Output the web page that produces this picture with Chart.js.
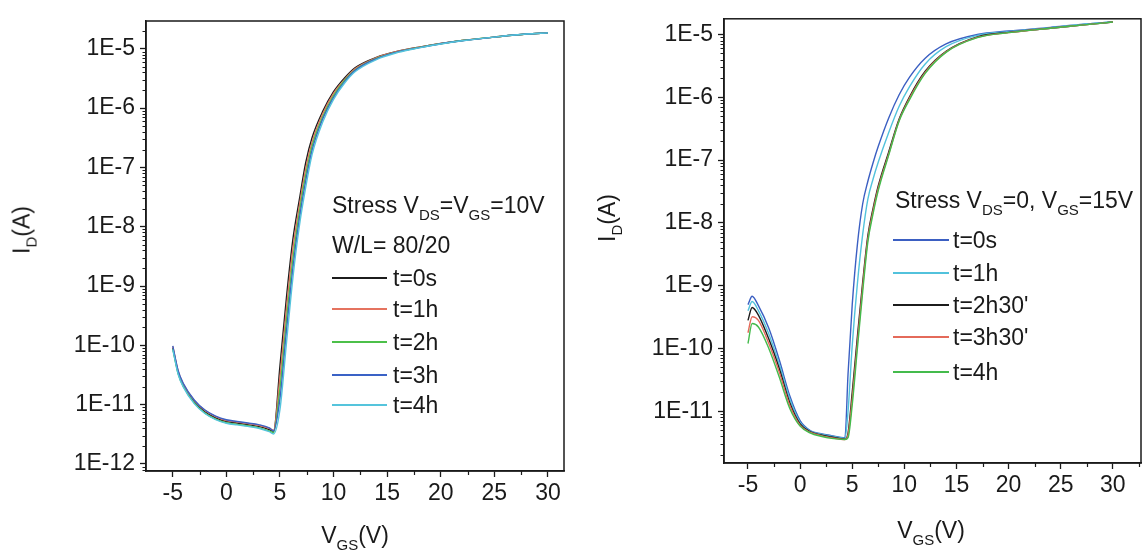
<!DOCTYPE html>
<html>
<head>
<meta charset="utf-8">
<script src="https://cdn.jsdelivr.net/npm/chart.js@4.4.1/dist/chart.umd.min.js"></script>
<style>
  html, body { margin: 0; padding: 0; background: #fff; }
  body { width: 1145px; height: 553px; position: relative; overflow: hidden;
         font-family: "Liberation Sans", Arial, sans-serif; color: #1a1a1a; }
  canvas { position: absolute; top: 0; }
  .txt { position: absolute; font-size: 23px; line-height: 1; white-space: nowrap; }
  .txt sub { font-size: 15px; position: relative; top: 7px; vertical-align: baseline; line-height: 0; }
  .ytitle { transform: translate(-50%, -50%) rotate(-90deg); }
  .xtitle { transform: translate(-50%, -50%); }
  .mid { transform: translateY(-50%); }
  .ln { position: absolute; height: 2px; }
</style>
</head>
<body>
<canvas id="leftChart" width="580" height="553" style="left:0"></canvas>
<canvas id="rightChart" width="565" height="553" style="left:580px"></canvas>
<div id="overlay"></div>
<script>
// ---- left panel: stress Vds = Vgs = 10V ----
const vgsLeft = [-5, -4.5, -4, -3, -2, -1, 0, 1, 2, 3, 4, 4.4, 5, 5.6, 6.2, 6.8, 7.4, 8, 9, 10, 11, 12, 14, 16, 18, 20, 22, 25, 28, 30];
const leftT0 = [9.1e-11, 3.5e-11, 2.1e-11, 1.12e-11, 7.6e-12, 6.0e-12, 5.2e-12, 4.9e-12, 4.6e-12, 4.3e-12, 3.8e-12, 3.55e-12, 4.5e-11, 6.3e-10, 6.0e-9, 2.8e-8, 1.2e-7, 3.2e-7, 8.9e-7, 1.9e-6, 3.2e-6, 4.8e-6, 7.2e-6, 9.1e-6, 1.07e-5, 1.23e-5, 1.38e-5, 1.58e-5, 1.78e-5, 1.86e-5];
const leftT1 = [9.6e-11, 3.7e-11, 2.2e-11, 1.18e-11, 8.0e-12, 6.3e-12, 5.4e-12, 5.1e-12, 4.8e-12, 4.5e-12, 4.0e-12, 3.7e-12, 2.95e-11, 4.1e-10, 4.2e-9, 2.2e-8, 9.5e-8, 2.7e-7, 8.1e-7, 1.78e-6, 3.0e-6, 4.6e-6, 7.1e-6, 9.1e-6, 1.07e-5, 1.23e-5, 1.38e-5, 1.58e-5, 1.78e-5, 1.86e-5];
const leftT2 = [8.7e-11, 3.3e-11, 2.0e-11, 1.07e-11, 7.2e-12, 5.7e-12, 4.95e-12, 4.65e-12, 4.4e-12, 4.1e-12, 3.6e-12, 3.4e-12, 1.9e-11, 2.6e-10, 2.8e-9, 1.7e-8, 7.4e-8, 2.3e-7, 7.2e-7, 1.62e-6, 2.9e-6, 4.4e-6, 6.9e-6, 8.9e-6, 1.06e-5, 1.22e-5, 1.38e-5, 1.58e-5, 1.78e-5, 1.86e-5];
const leftT3 = [9.8e-11, 3.75e-11, 2.25e-11, 1.2e-11, 8.1e-12, 6.4e-12, 5.55e-12, 5.2e-12, 4.9e-12, 4.6e-12, 4.05e-12, 3.6e-12, 1.26e-11, 1.7e-10, 1.95e-9, 1.32e-8, 5.9e-8, 1.95e-7, 6.6e-7, 1.51e-6, 2.75e-6, 4.3e-6, 6.8e-6, 8.9e-6, 1.05e-5, 1.22e-5, 1.37e-5, 1.58e-5, 1.78e-5, 1.86e-5];
const leftT4 = [8.5e-11, 3.25e-11, 1.95e-11, 1.04e-11, 7.1e-12, 5.6e-12, 4.85e-12, 4.55e-12, 4.3e-12, 4.0e-12, 3.5e-12, 3.2e-12, 8.3e-12, 1.07e-10, 1.35e-9, 1.0e-8, 4.6e-8, 1.66e-7, 5.9e-7, 1.41e-6, 2.6e-6, 4.1e-6, 6.6e-6, 8.7e-6, 1.04e-5, 1.21e-5, 1.37e-5, 1.58e-5, 1.78e-5, 1.86e-5];
const leftNames = ["t=0s", "t=1h", "t=2h", "t=3h", "t=4h"];
const leftColors = ["#1c1c1c", "#e5735f", "#4cc04a", "#3a62c6", "#55c4dc"];
const leftYTicks = [1e-12, 1e-11, 1e-10, 1e-9, 1e-8, 1e-7, 1e-6, 1e-5];
const leftYLabels = ["1E-12", "1E-11", "1E-10", "1E-9", "1E-8", "1E-7", "1E-6", "1E-5"];

// ---- right panel: stress Vds = 0, Vgs = 15V ----
const vgsRight = [-5, -4.6, -4, -3, -2, -1, 0, 1, 2, 3, 4.3, 4.6, 5, 5.5, 6, 6.5, 7, 7.5, 8.5, 9.5, 10.5, 12, 14, 17, 20, 24, 27, 30];
const rightT0 = [5.0e-10, 6.8e-10, 4.8e-10, 2.1e-10, 6.6e-11, 1.78e-11, 7.1e-12, 4.9e-12, 4.4e-12, 4.1e-12, 3.8e-12, 4.0e-11, 5.0e-10, 4.6e-9, 2.0e-8, 4.6e-8, 9.1e-8, 1.66e-7, 4.7e-7, 1.1e-6, 2.1e-6, 4.2e-6, 7.1e-6, 1.0e-5, 1.14e-5, 1.3e-5, 1.45e-5, 1.58e-5];
const rightT1 = [4.0e-10, 5.6e-10, 4.0e-10, 1.7e-10, 5.6e-11, 1.58e-11, 6.6e-12, 4.8e-12, 4.3e-12, 4.0e-12, 3.7e-12, 1.0e-11, 1.12e-10, 1.1e-9, 6.5e-9, 2.4e-8, 5.0e-8, 9.3e-8, 2.75e-7, 7.2e-7, 1.48e-6, 3.4e-6, 6.4e-6, 9.7e-6, 1.11e-5, 1.29e-5, 1.45e-5, 1.58e-5];
const rightT2 = [2.8e-10, 4.5e-10, 3.4e-10, 1.41e-10, 4.8e-11, 1.38e-11, 6.3e-12, 4.7e-12, 4.2e-12, 3.9e-12, 3.6e-12, 4.5e-12, 2.0e-11, 1.58e-10, 1.12e-9, 6.3e-9, 1.7e-8, 3.9e-8, 1.35e-7, 4.5e-7, 1.02e-6, 2.6e-6, 5.4e-6, 9.2e-6, 1.08e-5, 1.26e-5, 1.41e-5, 1.58e-5];
const rightT3 = [1.78e-10, 3.2e-10, 2.8e-10, 1.2e-10, 4.2e-11, 1.26e-11, 6.0e-12, 4.6e-12, 4.1e-12, 3.8e-12, 3.55e-12, 4.2e-12, 1.58e-11, 1.26e-10, 9.5e-10, 5.6e-9, 1.55e-8, 3.6e-8, 1.25e-7, 4.3e-7, 9.7e-7, 2.5e-6, 5.3e-6, 9.0e-6, 1.07e-5, 1.26e-5, 1.41e-5, 1.58e-5];
const rightT4 = [1.2e-10, 2.5e-10, 2.2e-10, 1.0e-10, 3.5e-11, 1.12e-11, 5.8e-12, 4.5e-12, 4.0e-12, 3.7e-12, 3.55e-12, 3.8e-12, 1.26e-11, 1.02e-10, 7.9e-10, 5.0e-9, 1.4e-8, 3.3e-8, 1.2e-7, 4.2e-7, 9.2e-7, 2.4e-6, 5.2e-6, 8.9e-6, 1.07e-5, 1.26e-5, 1.41e-5, 1.58e-5];
const rightNames = ["t=0s", "t=1h", "t=2h30'", "t=3h30'", "t=4h"];
const rightColors = ["#3b5fc2", "#52c2dc", "#1c1c1c", "#e46a5a", "#44bb4c"];
const rightYTicks = [1e-11, 1e-10, 1e-9, 1e-8, 1e-7, 1e-6, 1e-5];
const rightYLabels = ["1E-11", "1E-10", "1E-9", "1E-8", "1E-7", "1E-6", "1E-5"];

const xTicks = [-5, 0, 5, 10, 15, 20, 25, 30];
const xMinorLeft = [-2.5, 2.5, 7.5, 12.5, 17.5, 22.5, 27.5];
const xMinorRight = [-2.5, 2.5, 7.5, 12.5, 17.5, 22.5, 27.5, 32.5];

const FONT = '"Liberation Sans", Arial, sans-serif';
const INK = "#1a1a1a";

// box round the plot + minor ticks
const framePlugin = {
    id: "frame",
    afterDraw(chart, args, opts) {
        const { ctx, chartArea: a, scales } = chart;
        ctx.save();
        ctx.strokeStyle = INK;
        ctx.lineWidth = 1.5;
        ctx.strokeRect(a.left, a.top, a.right - a.left, a.bottom - a.top);
        ctx.lineWidth = 1.2;
        ctx.beginPath();
        opts.xMinor.forEach(v => {
            const px = Math.round(scales.x.getPixelForValue(v)) + 0.5;
            ctx.moveTo(px, a.bottom);
            ctx.lineTo(px, a.bottom + 4);
        });
        const y = scales.y;
        for (let e = Math.floor(Math.log10(y.min)); e <= Math.ceil(Math.log10(y.max)); e++) {
            for (let k = 2; k <= 9; k++) {
                const v = k * Math.pow(10, e);
                if (v < y.min || v > y.max) continue;
                const py = Math.round(y.getPixelForValue(v)) + 0.5;
                ctx.moveTo(a.left, py);
                ctx.lineTo(a.left - 3.5, py);
            }
        }
        ctx.stroke();
        ctx.restore();
    }
};

function makeChart(id, vgs, series, names, colors, cfg) {
    const H = 553;
    return new Chart(document.getElementById(id), {
        type: "line",
        data: {
            datasets: series.map((vals, i) => ({
                label: names[i],
                data: vals.map((v, j) => ({ x: vgs[j], y: v })),
                borderColor: colors[i],
                borderWidth: 1.4,
                pointRadius: 0,
                fill: false,
                order: series.length - i,   // later curves on top
                cubicInterpolationMode: "monotone"
            }))
        },
        options: {
            responsive: false,
            animation: false,
            devicePixelRatio: 1,
            layout: { padding: { left: 0, top: cfg.area.top, right: cfg.width - cfg.area.right, bottom: 0 } },
            plugins: {
                legend: { display: false },
                tooltip: { enabled: false },
                frame: { xMinor: cfg.xMinor }
            },
            scales: {
                x: {
                    type: "linear",
                    min: cfg.xMin,
                    max: cfg.xMax,
                    afterBuildTicks: s => { s.ticks = xTicks.map(v => ({ value: v })); },
                    afterFit: s => { s.height = H - cfg.area.bottom; },
                    grid: { drawOnChartArea: false, drawTicks: true, tickLength: 6, tickColor: INK, tickWidth: 1.3 },
                    border: { display: true, color: INK, width: 1.5 },
                    ticks: { color: INK, font: { family: FONT, size: 23 }, padding: 3, maxRotation: 0, autoSkip: false,
                              callback: v => String(v) }
                },
                y: {
                    type: "logarithmic",
                    min: cfg.yMin,
                    max: cfg.yMax,
                    afterBuildTicks: s => { s.ticks = cfg.yTicks.map(v => ({ value: v })); },
                    afterFit: s => { s.width = cfg.area.left; },
                    grid: { drawOnChartArea: false, drawTicks: true, tickLength: 6, tickColor: INK, tickWidth: 1.3 },
                    border: { display: true, color: INK, width: 1.5 },
                    ticks: { color: INK, font: { family: FONT, size: 23 }, padding: 5, autoSkip: false,
                             callback: (v, i) => cfg.yLabels[i] }
                }
            }
        },
        plugins: [framePlugin]
    });
}

makeChart("leftChart", vgsLeft, [leftT0, leftT1, leftT2, leftT3, leftT4], leftNames, leftColors, {
    width: 580, area: { left: 146, top: 21, right: 564, bottom: 471 },
    xMin: -7.5, xMax: 31.5, yMin: 7.6e-13, yMax: 2.95e-5,
    yTicks: leftYTicks, yLabels: leftYLabels, xMinor: xMinorLeft
});

makeChart("rightChart", vgsRight, [rightT0, rightT1, rightT2, rightT3, rightT4], rightNames, rightColors, {
    width: 565, area: { left: 144, top: 13, right: 561, bottom: 463 },
    xMin: -7.3, xMax: 32.7, yMin: 1.5e-12, yMax: 1.78e-5,
    yTicks: rightYTicks, yLabels: rightYLabels, xMinor: xMinorRight
});

// axis titles and legends (html text so subscripts work)
const overlay = document.getElementById("overlay");
function addText(html, x, y, cls) {
    const d = document.createElement("div");
    d.className = "txt " + cls;
    d.style.left = x + "px";
    d.style.top = y + "px";
    d.innerHTML = html;
    overlay.appendChild(d);
}
function addLegend(names, colors, lineX, lineW, textX, rowsY) {
    names.forEach((n, i) => {
        const l = document.createElement("div");
        l.className = "ln";
        l.style.left = lineX + "px";
        l.style.width = lineW + "px";
        l.style.top = (rowsY[i] - 1) + "px";
        l.style.background = colors[i];
        overlay.appendChild(l);
        addText(n, textX, rowsY[i], "mid");
    });
}

addText("I<sub>D</sub>(A)", 22, 230, "ytitle");
addText("I<sub>D</sub>(A)", 607, 218, "ytitle");
addText("V<sub>GS</sub>(V)", 355, 535, "xtitle");
addText("V<sub>GS</sub>(V)", 931, 530, "xtitle");

addText("Stress V<sub>DS</sub>=V<sub>GS</sub>=10V", 332, 205, "mid");
addText("W/L= 80/20", 332, 245, "mid");
addLegend(leftNames, leftColors, 332, 55, 393, [278, 309, 342, 375, 405]);

addText("Stress V<sub>DS</sub>=0, V<sub>GS</sub>=15V", 895, 200, "mid");
addLegend(rightNames, rightColors, 893, 56, 953, [240, 273, 305, 337, 372]);
</script>
</body>
</html>
